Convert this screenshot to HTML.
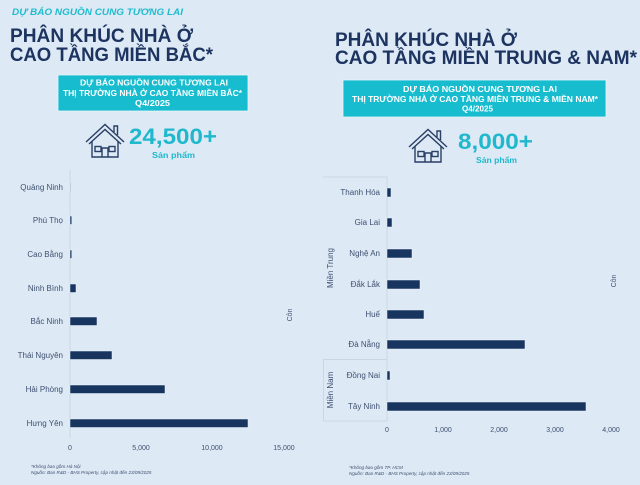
<!DOCTYPE html>
<html><head><meta charset="utf-8"><style>
html,body{margin:0;padding:0;background:#dde9f5;}
svg{display:block;font-family:"Liberation Sans","DejaVu Sans",sans-serif;}
</style></head><body>
<svg width="640" height="485" viewBox="0 0 640 485" xmlns="http://www.w3.org/2000/svg">
<rect x="0" y="0" width="640" height="485" fill="#dde9f5"/>

<!-- Header left -->
<text x="12" y="15" font-size="9.5" font-weight="bold" font-style="italic" fill="#1fbccd" textLength="171" lengthAdjust="spacingAndGlyphs">DỰ BÁO NGUỒN CUNG TƯƠNG LAI</text>
<text x="10" y="42" font-size="19.5" font-weight="bold" fill="#1d3461" textLength="183" lengthAdjust="spacingAndGlyphs">PHÂN KHÚC NHÀ Ở</text>
<text x="10" y="61" font-size="19.5" font-weight="bold" fill="#1d3461" textLength="203" lengthAdjust="spacingAndGlyphs">CAO TẦNG MIỀN BẮC*</text>

<!-- Header right -->
<text x="335" y="46" font-size="19.5" font-weight="bold" fill="#1d3461" textLength="182" lengthAdjust="spacingAndGlyphs">PHÂN KHÚC NHÀ Ở</text>
<text x="335" y="64" font-size="19.5" font-weight="bold" fill="#1d3461" textLength="302" lengthAdjust="spacingAndGlyphs">CAO TẦNG MIỀN TRUNG &amp; NAM*</text>

<!-- Teal boxes -->
<rect x="58" y="75" width="190" height="36" fill="#17bccf" stroke="#e9f4f8" stroke-width="0.8"/>
<g font-size="8" font-weight="bold" fill="#ffffff">
<text x="80" y="85.5" textLength="148" lengthAdjust="spacingAndGlyphs">DỰ BÁO NGUỒN CUNG TƯƠNG LAI</text>
<text x="63" y="96" textLength="179" lengthAdjust="spacingAndGlyphs">THỊ TRƯỜNG NHÀ Ở CAO TẦNG MIỀN BẮC*</text>
<text x="135" y="106" textLength="35" lengthAdjust="spacingAndGlyphs">Q4/2025</text>
</g>
<rect x="343" y="80" width="263" height="37" fill="#17bccf" stroke="#e9f4f8" stroke-width="0.8"/>
<g font-size="8" font-weight="bold" fill="#ffffff">
<text x="403" y="92" textLength="154" lengthAdjust="spacingAndGlyphs">DỰ BÁO NGUỒN CUNG TƯƠNG LAI</text>
<text x="352" y="102" textLength="246" lengthAdjust="spacingAndGlyphs">THỊ TRƯỜNG NHÀ Ở CAO TẦNG MIỀN TRUNG &amp; MIỀN NAM*</text>
<text x="462" y="111.5" textLength="31" lengthAdjust="spacingAndGlyphs">Q4/2025</text>
</g>

<!-- House icons -->
<defs>
<g id="house" fill="none" stroke="#2a3f66" stroke-width="1.4" stroke-linejoin="miter">
<polyline points="1,19 20,1.5 39,19"/>
<polyline points="4,21 20,6.5 36,21"/>
<polyline points="29,9 29,3 32.5,3 32.5,12"/>
<polyline points="7,18.5 7,34 33,34 33,18.5"/>
<rect x="10" y="23.5" width="6" height="5"/>
<rect x="24" y="23.5" width="6" height="5"/>
<polyline points="17,34 17,25 23,25 23,34"/>
</g>
</defs>
<use href="#house" x="85" y="123"/>
<use href="#house" x="408" y="128"/>

<text x="129" y="144" font-size="22" font-weight="bold" fill="#1fb8cc" textLength="88" lengthAdjust="spacingAndGlyphs">24,500+</text>
<text x="152" y="158" font-size="8.5" font-weight="bold" fill="#1fb8cc" textLength="43" lengthAdjust="spacingAndGlyphs">Sản phẩm</text>
<text x="458" y="149" font-size="22" font-weight="bold" fill="#1fb8cc" textLength="75" lengthAdjust="spacingAndGlyphs">8,000+</text>
<text x="476" y="163" font-size="8.5" font-weight="bold" fill="#1fb8cc" textLength="41" lengthAdjust="spacingAndGlyphs">Sản phẩm</text>

<!-- LEFT CHART -->
<line x1="70" y1="170" x2="70" y2="438" stroke="#cbd6e2" stroke-width="1"/>
<g font-size="8" fill="#3f5070" text-anchor="end">
<text x="63" y="190">Quảng Ninh</text>
<text x="63" y="223">Phú Thọ</text>
<text x="63" y="257">Cao Bằng</text>
<text x="63" y="291">Ninh Bình</text>
<text x="63" y="324">Bắc Ninh</text>
<text x="63" y="358">Thái Nguyên</text>
<text x="63" y="392">Hải Phòng</text>
<text x="63" y="426">Hưng Yên</text>
</g>
<g fill="#17355f" stroke="#f0f5fa" stroke-width="0.5">
<rect x="70" y="183" width="0.6" height="8.5"/>
<rect x="70" y="216" width="1.8" height="8.5"/>
<rect x="70" y="250" width="1.8" height="8.5"/>
<rect x="70" y="284" width="6" height="8.5"/>
<rect x="70" y="317" width="27" height="8.5"/>
<rect x="70" y="351" width="42" height="8.5"/>
<rect x="70" y="385" width="95" height="8.5"/>
<rect x="70" y="419" width="178" height="8.5"/>
</g>
<g font-size="7" fill="#3f5070" text-anchor="middle">
<text x="70" y="450">0</text>
<text x="141" y="450">5,000</text>
<text x="212" y="450">10,000</text>
<text x="284" y="450">15,000</text>
</g>
<text transform="translate(292,315) rotate(-90)" font-size="7" fill="#3f5070" text-anchor="middle">Côn</text>
<g font-size="4.6" font-style="italic" fill="#3f5070">
<text x="31" y="468">*Không bao gồm Hà Nội</text>
<text x="31" y="474">Nguồn: Ban R&amp;D - BHS Property, cập nhật đến 23/09/2025</text>
</g>

<!-- RIGHT CHART -->
<g stroke="#cbd6e2" stroke-width="1" fill="none">
<line x1="323" y1="177" x2="387" y2="177"/>
<line x1="387" y1="177" x2="387" y2="421"/>
<line x1="323" y1="359.5" x2="387" y2="359.5"/>
<line x1="323" y1="421" x2="387" y2="421"/>
<line x1="323.5" y1="359.5" x2="323.5" y2="421"/>
</g>
<g font-size="8" fill="#3f5070" text-anchor="end">
<text x="380" y="195">Thanh Hóa</text>
<text x="380" y="225">Gia Lai</text>
<text x="380" y="256">Nghệ An</text>
<text x="380" y="287">Đắk Lắk</text>
<text x="380" y="317">Huế</text>
<text x="380" y="347">Đà Nẵng</text>
<text x="380" y="378">Đồng Nai</text>
<text x="380" y="409">Tây Ninh</text>
</g>
<g fill="#17355f" stroke="#f0f5fa" stroke-width="0.5">
<rect x="387" y="188" width="4" height="9"/>
<rect x="387" y="218" width="5" height="9"/>
<rect x="387" y="249" width="25" height="9"/>
<rect x="387" y="280" width="33" height="9"/>
<rect x="387" y="310" width="37" height="9"/>
<rect x="387" y="340" width="138" height="9"/>
<rect x="387" y="371" width="3" height="9"/>
<rect x="387" y="402" width="199" height="9"/>
</g>
<g font-size="7" fill="#3f5070" text-anchor="middle">
<text x="387" y="432">0</text>
<text x="443" y="432">1,000</text>
<text x="499" y="432">2,000</text>
<text x="555" y="432">3,000</text>
<text x="611" y="432">4,000</text>
</g>
<text transform="translate(333,268) rotate(-90)" font-size="8" fill="#3f5070" text-anchor="middle">Miền Trung</text>
<text transform="translate(333,390) rotate(-90)" font-size="8" fill="#3f5070" text-anchor="middle">Miền Nam</text>
<text transform="translate(616,281) rotate(-90)" font-size="7" fill="#3f5070" text-anchor="middle">Côn</text>
<g font-size="4.6" font-style="italic" fill="#3f5070">
<text x="349" y="469">*Không bao gồm TP. HCM</text>
<text x="349" y="475">Nguồn: Ban R&amp;D - BHS Property, cập nhật đến 23/09/2025</text>
</g>
</svg>
</body></html>
